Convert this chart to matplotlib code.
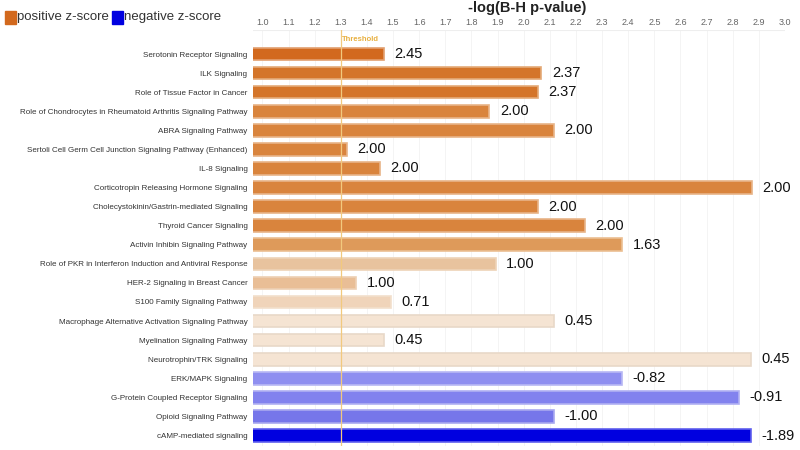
import numpy as np
import matplotlib
matplotlib.use("Agg")
import matplotlib.pyplot as plt
from matplotlib.patches import Rectangle

plt.rcParams["font.family"] = ["Liberation Sans", "DejaVu Sans"]

# pathways, top to bottom
pathways = [
    "Serotonin Receptor Signaling",
    "ILK Signaling",
    "Role of Tissue Factor in Cancer",
    "Role of Chondrocytes in Rheumatoid Arthritis Signaling Pathway",
    "ABRA Signaling Pathway",
    "Sertoli Cell Germ Cell Junction Signaling Pathway (Enhanced)",
    "IL-8 Signaling",
    "Corticotropin Releasing Hormone Signaling",
    "Cholecystokinin/Gastrin-mediated Signaling",
    "Thyroid Cancer Signaling",
    "Activin Inhibin Signaling Pathway",
    "Role of PKR in Interferon Induction and Antiviral Response",
    "HER-2 Signaling in Breast Cancer",
    "S100 Family Signaling Pathway",
    "Macrophage Alternative Activation Signaling Pathway",
    "Myelination Signaling Pathway",
    "Neurotrophin/TRK Signaling",
    "ERK/MAPK Signaling",
    "G-Protein Coupled Receptor Signaling",
    "Opioid Signaling Pathway",
    "cAMP-mediated signaling",
]
# -log(B-H p-value)
neg_log_p = [1.465, 2.068, 2.055, 1.869, 2.116, 1.322, 1.449, 2.872, 2.054, 2.235,
             2.377, 1.893, 1.360, 1.491, 2.116, 1.465, 2.869, 2.377, 2.823, 2.116, 2.869]
z_scores = [2.45, 2.37, 2.37, 2.00, 2.00, 2.00, 2.00, 2.00, 2.00, 2.00,
            1.63, 1.00, 1.00, 0.71, 0.45, 0.45, 0.45, -0.82, -0.91, -1.00, -1.89]
bar_colors = ["#D2691E", "#D4752A", "#D4752A", "#D9843D", "#D9843D", "#D9843D", "#D9843D",
              "#D9843D", "#D9843D", "#D9843D", "#DE9A5A", "#E8C39E", "#E9BE96", "#F0D4BA",
              "#F5E4D3", "#F5E4D3", "#F5E4D3", "#8F8FF0", "#8282EE", "#7676EA", "#0000E0"]
edge_colors = ["#E2A070", "#E4AA78", "#E4AA78", "#E8B488", "#E8B488", "#E8B488", "#E8B488",
               "#E8B488", "#E8B488", "#E8B488", "#EBBF92", "#EDD3B8", "#EDD0B3", "#F2DFCC",
               "#E8D8C8", "#E8D8C8", "#E8D8C8", "#B8B8F4", "#B0B0F2", "#A8A8F0", "#6060EE"]
threshold = 1.3

fig = plt.figure(figsize=(8, 4.5), dpi=100)
ax = fig.add_axes([253 / 800, 4 / 450, 532 / 800, 416 / 450])

y = np.arange(len(pathways))
ax.barh(y, neg_log_p, height=0.66, color=bar_colors, edgecolor=edge_colors, linewidth=1.2)

ax.set_xlim(0.964, 3.0)
ax.set_ylim(20.55, -1.26)

ticks = np.round(np.arange(1.0, 3.01, 0.1), 1)
ax.set_xticks(ticks)
ax.set_xticklabels([f"{t:.1f}" for t in ticks])
ax.xaxis.tick_top()
ax.tick_params(axis="x", length=0, labelsize=6.5, labelcolor="#666666", pad=2.5)
ax.set_yticks(y)
ax.set_yticklabels(pathways)
ax.tick_params(axis="y", length=0, labelsize=5.8, labelcolor="#333333", pad=4)
ax.grid(axis="x", color="#F4F4F4", linewidth=0.7)
ax.set_axisbelow(True)
for s in ax.spines.values():
    s.set_visible(False)
ax.axhline(-1.26, color="#EEEEEE", linewidth=0.8)

# threshold line
ax.axvline(threshold, color="#F2C97E", linewidth=0.9, zorder=3)
ax.text(threshold + 0.005, -0.78, "Threshold", color="#E8B040", fontsize=5.5,
        fontweight="bold", va="center", ha="left")

# z-score labels
for yi, v, z in zip(y, neg_log_p, z_scores):
    ax.text(v + 0.04, yi, f"{z:.2f}", fontsize=10.5, va="center", ha="left",
            color="#111111", clip_on=False)

# title and legend
fig.text(527 / 800, 1 - 8 / 450, "-log(B-H p-value)", fontsize=10.5, fontweight="bold",
         ha="center", va="center", color="#222222")
fig.patches.append(Rectangle((5 / 800, 1 - 24 / 450), 11 / 800, 13 / 450,
                             transform=fig.transFigure, color="#D2691E"))
fig.text(17 / 800, 1 - 17 / 450, "positive z-score", fontsize=9.5, va="center",
         color="#333333")
fig.patches.append(Rectangle((112 / 800, 1 - 24 / 450), 11 / 800, 13 / 450,
                             transform=fig.transFigure, color="#0000E0"))
fig.text(124 / 800, 1 - 17 / 450, "negative z-score", fontsize=9.5, va="center",
         color="#333333")

fig.savefig("out.png", dpi=100)
